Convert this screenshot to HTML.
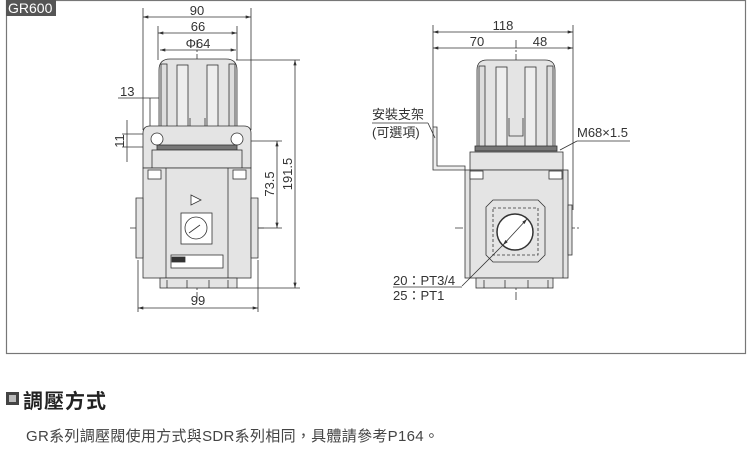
<!DOCTYPE html>
<html><head><meta charset="utf-8"><style>
body{margin:0;background:#fff;width:750px;height:474px;overflow:hidden;font-family:"Liberation Sans","Noto Sans CJK TC",sans-serif}
</style></head><body>
<svg width="750" height="474" viewBox="0 0 750 474" xmlns="http://www.w3.org/2000/svg" style="position:absolute;left:0;top:0">
<defs>
<marker id="a" viewBox="0 0 10 6" refX="10" refY="3" markerWidth="7" markerHeight="4" orient="auto-start-reverse"><path d="M0,0L10,3L0,6z" fill="#333"/></marker>
</defs>
<rect x="6.5" y="0.5" width="739" height="353" fill="none" stroke="#777" stroke-width="1.2"/>
<rect x="6" y="0" width="50" height="16" fill="#555"/>
<text x="8" y="13" font-size="14" fill="#fff">GR600</text>

<g stroke="#333" stroke-width="0.8" fill="none">
<line x1="143" y1="8" x2="143" y2="130"/><line x1="251" y1="8" x2="251" y2="130"/>
<line x1="143" y1="17" x2="251" y2="17" marker-start="url(#a)" marker-end="url(#a)"/>
<line x1="158" y1="26" x2="158" y2="60"/><line x1="237" y1="26" x2="237" y2="60"/>
<line x1="158" y1="33" x2="237" y2="33" marker-start="url(#a)" marker-end="url(#a)"/>
<line x1="160" y1="50" x2="236" y2="50" marker-start="url(#a)" marker-end="url(#a)"/>
<line x1="236" y1="60" x2="300" y2="60"/><line x1="237" y1="288" x2="300" y2="288"/>
<line x1="295" y1="60" x2="295" y2="288" marker-start="url(#a)" marker-end="url(#a)"/>
<line x1="250" y1="141" x2="282" y2="141"/><line x1="258" y1="228" x2="282" y2="228"/>
<line x1="277" y1="141" x2="277" y2="228" marker-start="url(#a)" marker-end="url(#a)"/>
<line x1="138" y1="260" x2="138" y2="312"/><line x1="258" y1="260" x2="258" y2="312"/>
<line x1="138" y1="308" x2="258" y2="308" marker-start="url(#a)" marker-end="url(#a)"/>
<line x1="118" y1="98" x2="177" y2="98" marker-end="url(#a)"/>
<line x1="150" y1="98" x2="150" y2="135"/>
<line x1="127" y1="120" x2="127" y2="162"/>
<line x1="122" y1="134" x2="160" y2="134"/><line x1="122" y1="147" x2="160" y2="147"/>
<line x1="433" y1="25" x2="433" y2="127"/><line x1="573" y1="25" x2="573" y2="210"/>
<line x1="433" y1="32" x2="573" y2="32" marker-start="url(#a)" marker-end="url(#a)"/>
<line x1="433" y1="48" x2="573" y2="48" marker-start="url(#a)" marker-end="url(#a)"/>
<line x1="516" y1="40" x2="516" y2="300" stroke-dasharray="8,2,2,2"/>
<line x1="197" y1="40" x2="197" y2="300" stroke-dasharray="8,2,2,2"/>
<line x1="130" y1="228" x2="265" y2="228" stroke-dasharray="8,2,2,2"/>
<line x1="455" y1="228" x2="580" y2="228" stroke-dasharray="8,2,2,2"/>
</g>
<g font-size="13" fill="#333">
<text x="197" y="15" text-anchor="middle">90</text>
<text x="198" y="31" text-anchor="middle">66</text>
<text x="198" y="48" text-anchor="middle">Φ64</text>
<text x="120" y="96">13</text>
<text x="124" y="141" text-anchor="middle" transform="rotate(-90 124 141)">11</text>
<text x="274" y="184" text-anchor="middle" transform="rotate(-90 274 184)">73.5</text>
<text x="292" y="174" text-anchor="middle" transform="rotate(-90 292 174)">191.5</text>
<text x="198" y="305" text-anchor="middle">99</text>
<text x="503" y="30" text-anchor="middle">118</text>
<text x="477" y="46" text-anchor="middle">70</text>
<text x="540" y="46" text-anchor="middle">48</text>
<text x="372" y="119">安裝支架</text>
<text x="372" y="137">(可選項)</text>
<text x="577" y="137">M68×1.5</text>
<text x="393" y="285">20：PT3/4</text>
<text x="393" y="300">25：PT1</text>
</g>

<g stroke="#333" stroke-width="0.8" fill="#e4e4e4">
<path d="M159,70 Q159,59 170,59 L226,59 Q237,59 237,70 L237,135 L159,135z"/>
<rect x="161" y="64" width="6" height="72" fill="#ddd"/><rect x="229" y="64" width="6" height="72" fill="#ddd"/>
<rect x="177" y="65" width="11" height="70" fill="#eee"/><rect x="207" y="65" width="11" height="70" fill="#eee"/>
<path d="M190,118 L190,140 L205,140 L205,118" fill="none"/>
<path d="M143,133 Q143,126 150,126 L244,126 Q251,126 251,133 L251,168 L143,168z"/>
<circle cx="157" cy="139" r="6" fill="#fff"/><circle cx="237" cy="139" r="6" fill="#fff"/>
<rect x="157" y="145" width="80" height="5" fill="#777"/>
<rect x="152" y="150" width="90" height="18"/>
<rect x="143" y="168" width="108" height="110"/>
<line x1="166" y1="168" x2="166" y2="278"/><line x1="228" y1="168" x2="228" y2="278"/>
<rect x="148" y="170" width="13" height="9" fill="#fff"/><rect x="233" y="170" width="13" height="9" fill="#fff"/>
<path d="M136,198 L143,198 L143,258 L136,258z"/><path d="M251,198 L258,198 L258,258 L251,258z"/>
<path d="M191,195 L201,200 L191,205z" fill="#fff"/>
<rect x="181" y="213" width="31" height="31" fill="#fff"/>
<circle cx="196" cy="228" r="11" fill="#fff"/>
<line x1="189" y1="233" x2="200" y2="225"/>
<rect x="171" y="255" width="52" height="13" fill="#fff"/>
<rect x="172" y="257" width="13" height="5" fill="#333"/>
<rect x="160" y="278" width="77" height="10"/>
<line x1="167" y1="280" x2="167" y2="288"/><line x1="187" y1="280" x2="187" y2="288"/><line x1="209" y1="280" x2="209" y2="288"/><line x1="228" y1="280" x2="228" y2="288"/>
</g>

<g stroke="#333" stroke-width="0.8" fill="#e4e4e4">
<path d="M477,70 Q477,60 487,60 L545,60 Q555,60 555,70 L555,148 L477,148z"/>
<rect x="479" y="66" width="6" height="82" fill="#ddd"/><rect x="547" y="66" width="6" height="82" fill="#ddd"/>
<rect x="496" y="67" width="11" height="80" fill="#eee"/><rect x="525" y="67" width="11" height="80" fill="#eee"/>
<path d="M509,118 L509,136 L523,136 L523,118" fill="none"/>
<rect x="475" y="146" width="82" height="5" fill="#777"/>
<rect x="470" y="152" width="93" height="18"/>
<rect x="465" y="170" width="103" height="108"/>
<line x1="470" y1="170" x2="470" y2="278"/><line x1="563" y1="170" x2="563" y2="278"/>
<rect x="470" y="171" width="13" height="8" fill="#fff"/><rect x="549" y="171" width="13" height="8" fill="#fff"/>
<rect x="568" y="205" width="4" height="50"/>
<path d="M493,200 L538,200 L545,207 L545,255 L538,262 L493,262 L486,255 L486,207z"/>
<rect x="493" y="208" width="45" height="47" fill="none" stroke-dasharray="3,2"/>
<circle cx="515" cy="232" r="18" fill="#fff" stroke-width="1.5"/>
<line x1="503" y1="245" x2="527" y2="219" marker-start="url(#a)" marker-end="url(#a)"/>
<line x1="503" y1="245" x2="462" y2="286" fill="none"/>
<line x1="393" y1="287" x2="462" y2="287"/>
<rect x="476" y="278" width="77" height="10"/>
<line x1="484" y1="280" x2="484" y2="288"/><line x1="505" y1="280" x2="505" y2="288"/><line x1="528" y1="280" x2="528" y2="288"/><line x1="548" y1="280" x2="548" y2="288"/>
<path d="M433,127 L433,170 L465,170 L465,166 L437,166 L437,127z" fill="#eee"/>
<line x1="372" y1="123" x2="428" y2="123"/><line x1="428" y1="123" x2="435" y2="138"/>
<line x1="577" y1="141" x2="630" y2="141"/><line x1="577" y1="141" x2="560" y2="150"/>
</g>

<rect x="6" y="392" width="13" height="13" fill="#444"/>
<rect x="9" y="395" width="7" height="7" fill="#bbb"/>
<text x="23" y="408" font-size="20" font-weight="bold" fill="#222" letter-spacing="1">調壓方式</text>
<text x="26" y="441" font-size="15" fill="#444" letter-spacing="0.3">GR系列調壓閥使用方式與SDR系列相同，具體請參考P164。</text>
</svg>
</body></html>
